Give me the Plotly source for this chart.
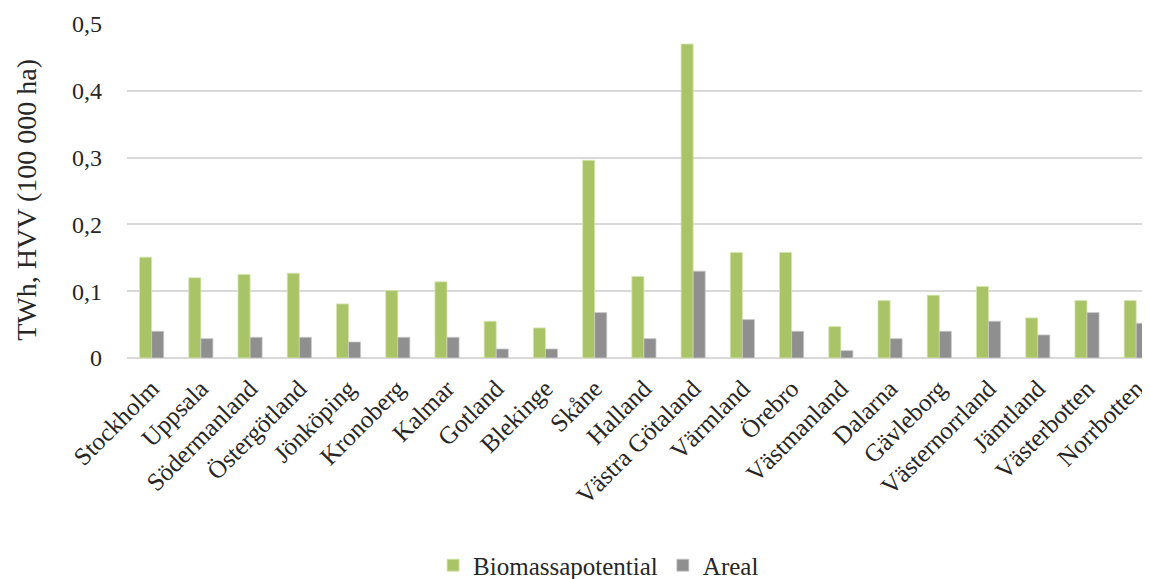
import plotly.graph_objects as go

categories = ["Stockholm", "Uppsala", "Södermanland", "Östergötland", "Jönköping",
              "Kronoberg", "Kalmar", "Gotland", "Blekinge", "Skåne", "Halland",
              "Västra Götaland", "Värmland", "Örebro", "Västmanland", "Dalarna",
              "Gävleborg", "Västernorrland", "Jämtland", "Västerbotten", "Norrbotten"]
biomassapotential = [0.151, 0.120, 0.125, 0.127, 0.081, 0.101, 0.114, 0.055, 0.045,
                     0.296, 0.122, 0.470, 0.158, 0.158, 0.047, 0.086, 0.094, 0.107,
                     0.060, 0.086, 0.086]
areal = [0.040, 0.029, 0.031, 0.031, 0.024, 0.031, 0.031, 0.0135, 0.0135, 0.068,
         0.029, 0.130, 0.0575, 0.040, 0.011, 0.029, 0.040, 0.055, 0.0345, 0.068, 0.052]
y_tickvals = [0, 0.1, 0.2, 0.3, 0.4, 0.5]
y_ticktext = ["0", "0,1", "0,2", "0,3", "0,4", "0,5"]
y_title = "TWh, HVV (100 000 ha)"

FONT = "Liberation Serif"
TXT = "#262626"

fig = go.Figure()
fig.add_trace(go.Bar(x=categories, y=biomassapotential, name="Biomassapotential",
                     marker=dict(color="#a9c467", line=dict(color="#d6e6b0", width=0.8))))
fig.add_trace(go.Bar(x=categories, y=areal, name="Areal",
                     marker=dict(color="#8f8f8f", line=dict(color="#c8c8c8", width=0.8))))

fig.add_annotation(text=y_title, textangle=-90, xref="paper", yref="paper",
                   x=-0.099, y=0.473, xanchor="center", yanchor="middle",
                   showarrow=False, font=dict(family=FONT, size=28, color=TXT))

fig.update_layout(
    width=1142, height=571,
    margin=dict(l=119, r=0, t=16, b=221, autoexpand=False),
    paper_bgcolor="white", plot_bgcolor="white",
    barmode="group", bargap=0.51, bargroupgap=0,
    font=dict(family=FONT, size=24, color=TXT),
    showlegend=True,
    legend=dict(orientation="h", x=0.461, xanchor="center", y=-0.621, yanchor="middle",
                font=dict(family=FONT, size=25, color=TXT),
                itemwidth=30, tracegroupgap=0),
    xaxis=dict(tickangle=-45, tickfont=dict(family=FONT, size=25, color=TXT),
               range=[-0.5, 20.28], showgrid=False, showline=False, ticks="",
               ticklabelstandoff=10, fixedrange=True),
    yaxis=dict(range=[0, 0.5], tickvals=y_tickvals, ticktext=y_ticktext,
               showgrid=True, gridcolor="#d9d9d9", gridwidth=1.5,
               zeroline=True, zerolinecolor="#d9d9d9", zerolinewidth=1.5,
               ticks="", ticklabelstandoff=24,
               tickfont=dict(family=FONT, size=24, color=TXT)),
)

fig.write_html("out.html")
